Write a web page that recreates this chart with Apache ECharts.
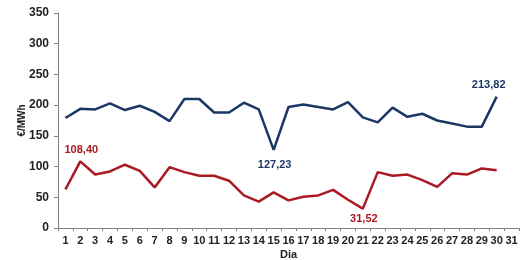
<!DOCTYPE html>
<html>
<head>
<meta charset="utf-8">
<script src="https://cdn.jsdelivr.net/npm/echarts@6/dist/echarts.min.js"></script>
<style>
  html, body { margin: 0; padding: 0; background: #fff; }
  #chart { width: 523px; height: 260px; }
</style>
</head>
<body>
<div id="chart"></div>
<script>
// days of the month
const days = Array.from({ length: 31 }, (_, i) => String(i + 1))
// max daily price (blue)
const maxPrice = [179, 194, 193, 203, 192, 199, 189, 174, 210, 210, 188, 188, 204, 193, 127.23,
  197, 201, 197, 193, 205, 180, 172, 196, 181, 186, 175, 170, 165, 165, 213.82]
// min daily price (red)
const minPrice = [63, 108.4, 87, 92, 103, 93, 66, 99, 91, 85, 85, 77, 53, 43, 58,
  45, 51, 53, 62, 46, 31.52, 91, 85, 87, 78, 67, 89, 87, 97, 94]
// points that carry a value label: index -> [dx, dy] label offset
const maxLabels = { 14: [1, 15], 29: [-8, -12] }
const minLabels = { 1: [1, -11], 20: [1, 10] }

const blue = '#1c3765'
const red = '#ab1a22'
const font = 'Liberation Sans, Arial'

const fmt = v => v.toFixed(2).replace('.', ',')

function withLabels (values, labels, color) {
  return values.map((v, i) => {
    if (labels[i] === undefined) return v
    return {
      value: v,
      label: {
        show: true,
        position: 'inside',
        offset: labels[i],
        color: color,
        fontWeight: 'bold',
        fontSize: 11,
        fontFamily: font,
        formatter: p => fmt(p.value)
      }
    }
  })
}

const chart = echarts.init(document.getElementById('chart'))
chart.setOption({
  animation: false,
  grid: { left: 58, right: 4, top: 13, bottom: 32, outerBoundsMode: 'none', containLabel: false },
  xAxis: {
    type: 'category',
    data: days,
    boundaryGap: true,
    name: 'Dia',
    nameLocation: 'middle',
    nameGap: 21,
    nameMoveOverlap: false,
    nameTextStyle: { color: '#222', fontWeight: 'bold', fontSize: 11, fontFamily: font },
    axisLine: { lineStyle: { color: '#7f7f7f', width: 1 } },
    axisTick: { show: true, length: 3, lineStyle: { color: '#7f7f7f' } },
    axisLabel: { color: '#222', fontWeight: 'bold', fontSize: 11, margin: 7, fontFamily: font, interval: 0 }
  },
  yAxis: {
    type: 'value',
    min: 0,
    max: 350,
    interval: 50,
    name: '€/MWh',
    nameLocation: 'middle',
    nameGap: 31,
    nameMoveOverlap: false,
    nameRotate: 90,
    nameTextStyle: { color: '#222', fontWeight: 'bold', fontSize: 10, fontFamily: font },
    axisLine: { show: true, lineStyle: { color: '#7f7f7f', width: 1 } },
    axisTick: { show: true, length: 4, lineStyle: { color: '#7f7f7f' } },
    splitLine: { show: false },
    axisLabel: { color: '#222', fontWeight: 'bold', fontSize: 12, margin: 9, fontFamily: font }
  },
  series: [
    {
      type: 'line',
      data: withLabels(maxPrice, maxLabels, blue),
      showSymbol: true,
      symbolSize: 0,
      lineStyle: { color: blue, width: 2.5 },
      itemStyle: { color: blue }
    },
    {
      type: 'line',
      data: withLabels(minPrice, minLabels, red),
      showSymbol: true,
      symbolSize: 0,
      lineStyle: { color: red, width: 2.5 },
      itemStyle: { color: red }
    }
  ]
})
</script>
</body>
</html>
